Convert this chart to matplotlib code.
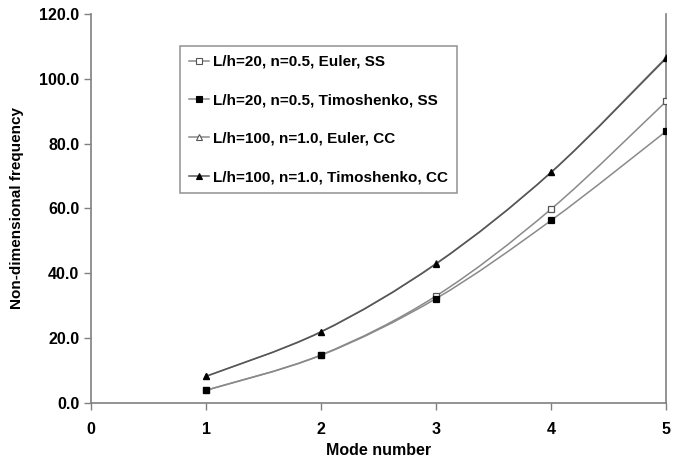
import matplotlib
matplotlib.use("Agg")
import matplotlib.pyplot as plt
from matplotlib.ticker import FormatStrFormatter
from matplotlib.path import Path
from matplotlib.patches import PathPatch

plt.rcParams['font.family'] = ['Liberation Sans', 'DejaVu Sans']

modes = [1, 2, 3, 4, 5]
euler_ss_20 = [3.9, 14.8, 33.0, 59.8, 93.0]
timo_ss_20 = [3.9, 14.7, 32.2, 56.3, 83.8]
euler_cc_100 = [8.2, 22.0, 43.0, 71.2, 106.6]
timo_cc_100 = [8.2, 21.9, 42.9, 71.1, 106.3]
labels = ["L/h=20, n=0.5, Euler, SS",
          "L/h=20, n=0.5, Timoshenko, SS",
          "L/h=100, n=1.0, Euler, CC",
          "L/h=100, n=1.0, Timoshenko, CC"]


def smooth_path(xs, ys):
    # Excel-style smoothed line: cubic Bezier segments through the data points
    verts = [(xs[0], ys[0])]
    codes = [Path.MOVETO]
    n = len(xs)
    for i in range(n - 1):
        x0, y0 = xs[max(i - 1, 0)], ys[max(i - 1, 0)]
        x1, y1 = xs[i], ys[i]
        x2, y2 = xs[i + 1], ys[i + 1]
        x3, y3 = xs[min(i + 2, n - 1)], ys[min(i + 2, n - 1)]
        c1 = (x1 + (x2 - x0) / 6.0, y1 + (y2 - y0) / 6.0)
        c2 = (x2 - (x3 - x1) / 6.0, y2 - (y3 - y1) / 6.0)
        verts += [c1, c2, (x2, y2)]
        codes += [Path.CURVE4] * 3
    return Path(verts, codes)


fig = plt.figure(figsize=(6.84, 4.61), dpi=100)
ax = fig.add_axes([0.133, 0.126, 0.841, 0.844])

series = [
    (euler_ss_20, '#8a8a8a', 's', 'white', '#555555'),
    (timo_ss_20, '#8a8a8a', 's', 'black', 'black'),
    (euler_cc_100, '#8a8a8a', '^', 'white', '#555555'),
    (timo_cc_100, '#555555', '^', 'black', 'black'),
]
for (vals, lc, mk, mfc, mec), lab in zip(series, labels):
    ax.add_patch(PathPatch(smooth_path(modes, vals), facecolor='none', edgecolor=lc, lw=1.1, zorder=2))
    ax.plot(modes, vals, linestyle='none', marker=mk, ms=5, mfc=mfc, mec=mec, mew=0.9, zorder=3)
    ax.plot([], [], color=lc, lw=1.1, marker=mk, ms=4, mfc=mfc, mec=mec, mew=0.8, label=lab)

ax.set_xlim(0, 5)
ax.set_ylim(0, 120)
ax.set_xticks([0, 1, 2, 3, 4, 5])
ax.set_yticks([0, 20, 40, 60, 80, 100, 120])
ax.yaxis.set_major_formatter(FormatStrFormatter('%.1f'))
for lab in ax.get_xticklabels() + ax.get_yticklabels():
    lab.set_fontweight('bold')
ax.tick_params(axis='both', labelsize=11.5, color='#808080', length=5, width=1, direction='out')
ax.tick_params(axis='x', pad=9)
ax.spines['top'].set_visible(False)
for s in ['left', 'bottom', 'right']:
    ax.spines[s].set_color('#808080')
    ax.spines[s].set_linewidth(1.2)

ax.set_xlabel('Mode number', fontsize=11.5, fontweight='bold', labelpad=4)
ax.set_ylabel('Non-dimensional frequency', fontsize=11, fontweight='bold', labelpad=11)

leg = ax.legend(loc='upper left', bbox_to_anchor=(0.155, 0.918), prop={'weight': 'bold', 'size': 11},
                frameon=True, fancybox=False, edgecolor='#808080', labelspacing=1.6,
                handlelength=1.3, handletextpad=0.25, borderpad=0.6, borderaxespad=0)
leg.get_frame().set_linewidth(1.2)

fig.savefig('out.png', dpi=100)
